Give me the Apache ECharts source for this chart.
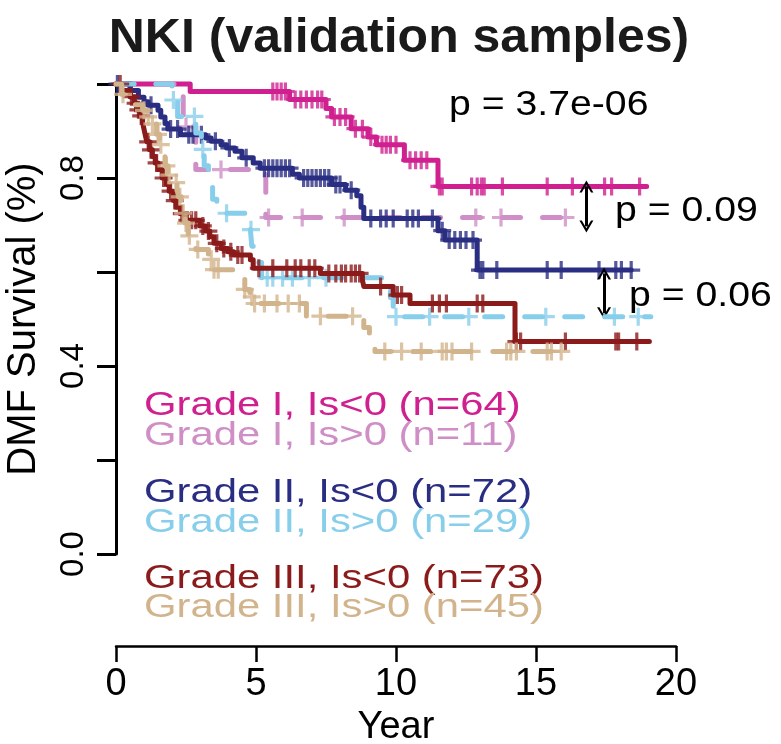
<!DOCTYPE html>
<html>
<head>
<meta charset="utf-8">
<script src="https://cdn.jsdelivr.net/npm/echarts@6/dist/echarts.min.js"></script>
<style>
html,body{margin:0;padding:0;background:#fff;}
#chart{width:781px;height:744px;}
</style>
</head>
<body>
<div id="chart"></div>
<script>
// ---------------- data ----------------
const xTicks = [0, 5, 10, 15, 20];
const yLabelValues = [0.0, 0.4, 0.8];

// Grade I, Is<0 (n=64)
const gIneg_time = [0, 2.65, 6.2, 7.5, 7.7, 8.4, 9.0, 9.3, 10.3, 11.5];
const gIneg_surv = [1.0, 0.984, 0.967, 0.948, 0.93, 0.905, 0.887, 0.871, 0.838, 0.782];
const gIneg_end = 18.95;
const gIneg_cens = [5.6, 5.75, 5.9, 6.05, 6.4, 6.6, 6.8, 7.0, 7.2, 7.35, 7.8, 8.0, 8.2, 8.55, 8.8, 9.1, 9.5, 9.65, 9.8, 10.0, 10.5, 10.7, 10.9, 11.1, 11.55, 11.65, 12.7, 12.9, 13.05, 13.15, 13.8, 15.4, 16.3, 17.45, 17.7, 18.7];

// Grade I, Is>0 (n=11)
const gIpos_time = [0, 2.4, 2.85, 5.35];
const gIpos_surv = [1.0, 0.909, 0.818, 0.716];
const gIpos_end = 16.3;
const gIpos_cens = [2.5, 3.75, 5.45, 6.65, 8.15, 12.85, 13.75, 16.05];

// Grade II, Is<0 (n=72)
const gIIneg_time = [0, 0.5, 0.8, 1.0, 1.15, 1.5, 1.6, 1.75, 1.85, 2.3, 3.2, 3.4, 3.75, 3.95, 4.25, 4.5, 4.9, 5.15, 6.3, 6.55, 7.7, 8.2, 8.6, 8.75, 8.85, 11.5, 11.75, 12.9];
const gIIneg_surv = [1.0, 0.986, 0.972, 0.962, 0.955, 0.944, 0.93, 0.916, 0.904, 0.892, 0.885, 0.878, 0.871, 0.864, 0.857, 0.843, 0.832, 0.821, 0.808, 0.8, 0.786, 0.774, 0.762, 0.738, 0.714, 0.688, 0.668, 0.604];
const gIIneg_end = 18.4;
const gIIneg_cens = [0.05, 0.55, 1.25, 1.95, 2.2, 2.6, 2.75, 3.05, 3.55, 4.05, 4.65, 5.3, 5.45, 5.6, 5.75, 5.9, 6.05, 6.2, 6.7, 6.85, 7.0, 7.15, 7.3, 7.45, 7.6, 7.85, 8.0, 8.4, 9.1, 9.45, 9.65, 9.9, 10.4, 10.6, 10.8, 11.3, 11.65, 11.9, 12.1, 12.3, 12.5, 12.75, 13.0, 13.1, 13.6, 15.4, 15.9, 17.25, 17.85, 18.05, 18.4];

// Grade II, Is>0 (n=29)
const gIIpos_time = [0, 2.0, 2.2, 2.85, 3.05, 3.15, 3.3, 3.45, 3.6, 4.8, 4.85, 5.0, 5.2, 9.8, 9.9];
const gIIpos_surv = [1.0, 0.966, 0.931, 0.896, 0.861, 0.826, 0.79, 0.755, 0.725, 0.69, 0.655, 0.62, 0.588, 0.546, 0.505];
const gIIpos_end = 19.1;
const gIIpos_cens = [2.05, 2.8, 3.1, 3.95, 4.82, 5.4, 5.6, 5.95, 6.3, 6.9, 7.5, 10.0, 11.2, 12.6, 15.35, 17.8, 18.65];

// Grade III, Is<0 (n=73)
const gIIIneg_time = [0, 0.2, 0.5, 0.65, 0.75, 0.85, 0.95, 1.0, 1.05, 1.1, 1.2, 1.3, 1.4, 1.5, 1.65, 1.8, 1.9, 2.05, 2.15, 2.3, 2.45, 3.0, 3.2, 3.35, 3.5, 3.75, 4.0, 4.2, 4.8, 4.9, 7.3, 8.8, 8.85, 9.9, 10.5, 14.25];
const gIIIneg_surv = [1.0, 0.986, 0.973, 0.959, 0.945, 0.932, 0.918, 0.904, 0.89, 0.877, 0.86, 0.846, 0.832, 0.818, 0.8, 0.786, 0.772, 0.752, 0.738, 0.724, 0.71, 0.698, 0.687, 0.675, 0.661, 0.65, 0.643, 0.636, 0.626, 0.608, 0.597, 0.583, 0.569, 0.551, 0.533, 0.452];
const gIIIneg_end = 19.05;
const gIIIneg_cens = [0.15, 0.55, 0.7, 0.8, 0.9, 1.15, 1.25, 1.45, 1.7, 1.95, 2.1, 2.35, 2.55, 2.7, 2.85, 3.1, 3.3, 3.6, 3.85, 4.1, 4.35, 4.5, 5.1, 5.6, 6.1, 6.4, 6.6, 6.9, 7.1, 7.6, 7.85, 8.05, 8.2, 8.4, 8.55, 8.7, 9.45, 10.05, 10.2, 11.3, 11.55, 11.8, 12.9, 13.1, 14.3, 14.45, 16.05, 17.85, 17.95, 18.6];

// Grade III, Is>0 (n=45)
const gIIIpos_time = [0, 0.2, 0.6, 0.95, 1.1, 1.25, 1.45, 1.55, 1.62, 1.75, 1.85, 2.05, 2.18, 2.24, 2.33, 2.37, 2.47, 2.58, 2.85, 3.3, 3.43, 4.5, 4.6, 4.78, 4.9, 6.8, 8.85, 9.05, 9.25];
const gIIIpos_surv = [1.0, 0.978, 0.956, 0.944, 0.93, 0.915, 0.893, 0.871, 0.848, 0.826, 0.806, 0.79, 0.775, 0.76, 0.744, 0.725, 0.704, 0.677, 0.648, 0.627, 0.605, 0.584, 0.563, 0.547, 0.533, 0.506, 0.482, 0.457, 0.431];
const gIIIpos_end = 15.9;
const gIIIpos_cens = [0.25, 1.0, 1.15, 1.3, 1.5, 1.6, 1.8, 1.9, 2.15, 2.28, 2.4, 2.5, 2.62, 2.92, 3.4, 3.5, 3.65, 4.6, 4.85, 4.95, 5.3, 5.75, 6.15, 6.55, 7.3, 8.45, 9.6, 10.2, 10.9, 11.65, 11.8, 12.0, 12.7, 13.95, 14.1, 14.3, 15.4, 15.55, 15.9];

// group labels
const groupLabels = ['Grade I, Is<0 (n=64)', 'Grade I, Is>0 (n=11)', 'Grade II, Is<0 (n=72)', 'Grade II, Is>0 (n=29)', 'Grade III, Is<0 (n=73)', 'Grade III, Is>0 (n=45)'];

// p-value annotations and bracket arrows: [time, upper survival, lower survival]
const pTexts = ['p = 3.7e-06', 'p = 0.09', 'p = 0.06'];
const arrow1 = [16.8, 0.782, 0.697];
const arrow2 = [17.43, 0.597, 0.512];

// ---------------- styling ----------------
const FONT = 'Liberation Sans, Arial, Helvetica, sans-serif';
const colors = ['#D02090', '#CF8FC6', '#2A2E82', '#87CEEB', '#8B1A1A', '#D2B48C'];
const dashedFlags = [false, true, false, true, false, true];
const plusPath = 'path://M7.4,0H10.6V7.4H18V10.6H10.6V18H7.4V10.6H0V7.4H7.4Z';
const arrowHead = 'path://M0,10L5,0L10,10L8.3,10L5,3.4L1.7,10Z';

const groups = [
  [gIneg_time, gIneg_surv, gIneg_end, gIneg_cens],
  [gIpos_time, gIpos_surv, gIpos_end, gIpos_cens],
  [gIIneg_time, gIIneg_surv, gIIneg_end, gIIneg_cens],
  [gIIpos_time, gIIpos_surv, gIIpos_end, gIIpos_cens],
  [gIIIneg_time, gIIIneg_surv, gIIIneg_end, gIIIneg_cens],
  [gIIIpos_time, gIIIpos_surv, gIIIpos_end, gIIIpos_cens]
];

function survAt(times, survs, t) {
  let s = survs[0];
  for (let i = 0; i < times.length; i++) { if (times[i] <= t) s = survs[i]; }
  return s;
}

const series = [];
groups.forEach((g, i) => {
  const [times, survs, end, cens] = g;
  const lineData = times.map((t, k) => [t, survs[k]]);
  lineData.push([end, survs[survs.length - 1]]);
  series.push({
    name: groupLabels[i],
    type: 'line',
    step: 'end',
    data: lineData,
    showSymbol: false,
    clip: false,
    silent: true,
    z: 2 + i,
    lineStyle: {
      color: colors[i],
      width: 5,
      type: dashedFlags[i] ? [18, 22] : 'solid',
      cap: 'round',
      join: 'round'
    }
  });
  series.push({
    name: groupLabels[i] + ' censored',
    type: 'scatter',
    data: cens.map(t => [t, survAt(times, survs, t)]),
    symbol: plusPath,
    symbolSize: 18,
    clip: false,
    silent: true,
    z: 2 + i,
    itemStyle: { color: colors[i] }
  });
});

series.push({
  type: 'line',
  data: [],
  silent: true,
  z: 10,
  markLine: {
    silent: true,
    animation: false,
    symbol: [arrowHead, arrowHead],
    symbolSize: [14, 12],
    label: { show: false },
    lineStyle: { color: '#000', width: 3, type: 'solid' },
    data: [
      [{ coord: [arrow1[0], arrow1[1]] }, { coord: [arrow1[0], arrow1[2]] }],
      [{ coord: [arrow2[0], arrow2[1]] }, { coord: [arrow2[0], arrow2[2]] }]
    ]
  }
});

const legendY = [406, 436, 493, 523, 579, 608];
const graphics = [
  { type: 'text', x: 399, y: 38, scaleX: 1.02, style: { text: 'NKI (validation samples)', fontFamily: FONT, fontSize: 49, fontWeight: 'bold', fill: '#1a1a1a', textAlign: 'center', textVerticalAlign: 'middle' } },
  { type: 'text', x: 449, y: 105, scaleX: 1.12, style: { text: pTexts[0], fontFamily: FONT, fontSize: 35, fill: '#000', textAlign: 'left', textVerticalAlign: 'middle' } },
  { type: 'text', x: 615, y: 211, scaleX: 1.12, style: { text: pTexts[1], fontFamily: FONT, fontSize: 35, fill: '#000', textAlign: 'left', textVerticalAlign: 'middle' } },
  { type: 'text', x: 629, y: 296, scaleX: 1.12, style: { text: pTexts[2], fontFamily: FONT, fontSize: 35, fill: '#000', textAlign: 'left', textVerticalAlign: 'middle' } }
];
groupLabels.forEach((lab, i) => {
  graphics.push({ type: 'text', x: 144, y: legendY[i], scaleX: 1.23, style: { text: lab, fontFamily: FONT, fontSize: 34, fill: colors[i], textAlign: 'left', textVerticalAlign: 'middle' } });
});

const chart = echarts.init(document.getElementById('chart'), null, { renderer: 'canvas' });
chart.setOption({
  animation: false,
  backgroundColor: '#ffffff',
  grid: { left: 116, width: 560, top: 84, bottom: 190, containLabel: false, outerBoundsMode: 'none' },
  xAxis: {
    type: 'value',
    min: xTicks[0], max: xTicks[xTicks.length - 1], interval: 5,
    offset: 92,
    name: 'Year', nameLocation: 'middle', nameGap: 54,
    nameTextStyle: { fontFamily: FONT, fontSize: 38, color: '#000' },
    axisLine: { show: true, onZero: false, lineStyle: { color: '#000', width: 2.5 } },
    axisTick: { show: true, length: 16, lineStyle: { color: '#000', width: 2.5 } },
    axisLabel: { fontFamily: FONT, fontSize: 38, color: '#000', margin: 20 },
    splitLine: { show: false }
  },
  yAxis: {
    type: 'value',
    min: 0, max: 1, interval: 0.2,
    name: 'DMF Survival (%)', nameLocation: 'middle', nameGap: 72, nameRotate: 90,
    nameTextStyle: { fontFamily: FONT, fontSize: 40, color: '#000' },
    axisLine: { show: true, onZero: false, lineStyle: { color: '#000', width: 3 } },
    axisTick: { show: true, length: 19, lineStyle: { color: '#000', width: 3 } },
    axisLabel: {
      fontFamily: FONT, fontSize: 33, color: '#000', rotate: 90, margin: 26,
      formatter: function (v) {
        const ok = yLabelValues.some(u => Math.abs(u - v) < 1e-6);
        return ok ? v.toFixed(1) : '';
      }
    },
    splitLine: { show: false }
  },
  graphic: graphics,
  series: series
});
</script>
</body>
</html>
